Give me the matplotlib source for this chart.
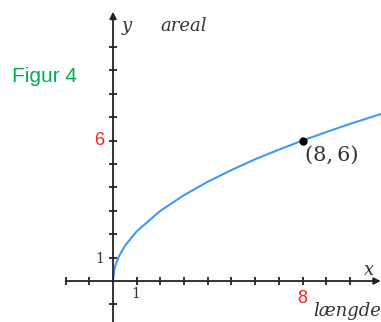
import matplotlib
matplotlib.use("Agg")
import matplotlib.pyplot as plt

# curve (længde -> areal)
x_vals = [0, 0.05, 0.1, 0.25, 0.5, 1, 2, 3, 4, 5, 6, 7, 8, 9, 10, 11.3]
y_vals = [0, 0.47, 0.67, 1.06, 1.5, 2.12, 3.0, 3.67, 4.24, 4.74, 5.2, 5.61, 6.0, 6.36, 6.71, 7.13]

point = (8, 6)
x_ticks = [-2, -1, 1, 2, 3, 4, 5, 6, 7, 8, 9, 10]
y_ticks = [-1, 1, 2, 3, 4, 5, 6, 7, 8, 9, 10]

fig = plt.figure(figsize=(3.81, 3.22), dpi=100)
ax = fig.add_axes([0, 0, 1, 1])
ax.set_xlim(-4.77, 11.31)
ax.set_ylim(-1.75, 12.0)
ax.axis("off")

axis_col = "#222222"
# axes lines with arrows
ax.annotate("", xy=(11.3, 0), xytext=(-2, 0),
            arrowprops=dict(arrowstyle="-|>", color=axis_col, lw=1.3,
                            mutation_scale=10, shrinkA=0, shrinkB=0))
ax.annotate("", xy=(0, 11.5), xytext=(0, -1.8),
            arrowprops=dict(arrowstyle="-|>", color=axis_col, lw=1.3,
                            mutation_scale=10, shrinkA=0, shrinkB=0))

# tick marks
ax.plot(x_ticks, [0] * len(x_ticks), ls="none", marker="|", ms=6, mew=1.3, color=axis_col)
ax.plot([0] * len(y_ticks), y_ticks, ls="none", marker="_", ms=6, mew=1.3, color=axis_col)

# curve and point
ax.plot(x_vals, y_vals, color="#3d9bf5", lw=1.5, solid_capstyle="round")
ax.plot(*point, "o", color="black", ms=5)

serif = ["DejaVu Serif"]
sans = ["Liberation Sans", "DejaVu Sans"]
txt_col = "#333333"

ax.text(0.35, 10.9, "y", fontsize=13, style="italic", family=serif, color=txt_col, va="center")
ax.text(2.0, 10.9, "areal", fontsize=13, style="italic", family=serif, color=txt_col, va="center")
ax.text(10.6, 0.45, "x", fontsize=13, style="italic", family=serif, color=txt_col, va="center")
ax.text(8.45, -1.3, "længde", fontsize=13, style="italic", family=serif, color=txt_col, va="center")
ax.text(8.1, 5.35, "(8,\u20096)", fontsize=15, family=serif, color=txt_col, va="center")

ax.text(-0.35, 6, "6", fontsize=13, color="#ff2020", family=sans, ha="right", va="center")
ax.text(8, -0.75, "8", fontsize=13, color="#ff2020", family=sans, ha="center", va="center")
ax.text(-0.55, 0.94, "1", fontsize=10, color=txt_col, family=serif, ha="center", va="center")
ax.text(0.95, -0.56, "1", fontsize=10, color=txt_col, family=serif, ha="center", va="center")

ax.text(-4.25, 8.75, "Figur 4", fontsize=15, color="#00b050", family=sans, va="center")

fig.savefig("out.png", dpi=100)
